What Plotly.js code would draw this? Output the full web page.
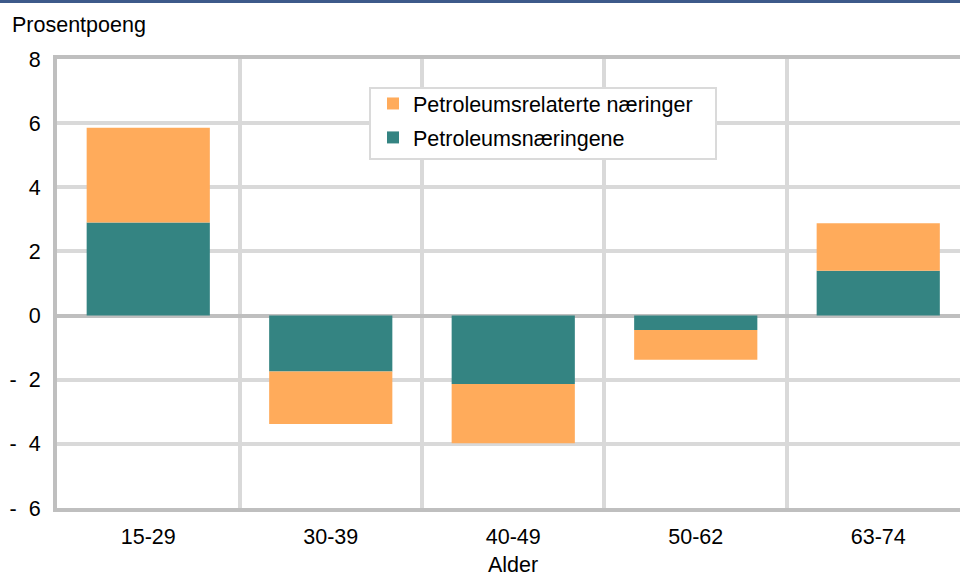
<!DOCTYPE html>
<html>
<head>
<meta charset="utf-8">
<script src="https://cdn.plot.ly/plotly-3.0.1.min.js"></script>
<style>
html,body{margin:0;padding:0;background:#fff;}
#wrap{position:relative;width:960px;height:574px;}
#topbar{position:absolute;left:0;top:0;width:960px;height:3px;background:#3D5A8A;z-index:5;}
#chart{width:960px;height:574px;}
</style>
</head>
<body>
<div id="wrap"><div id="topbar"></div><div id="chart"></div></div>
<script>
const categories = ["15-29", "30-39", "40-49", "50-62", "63-74"];
const petroleumsnaeringene = [2.90, -1.74, -2.13, -0.45, 1.40];
const petroleumsrelaterte = [2.96, -1.64, -1.85, -0.93, 1.48];
const yTickVals = [8, 6, 4, 2, 0, -2, -4, -6];
const yTickText = ["8", "6", "4", "2", "0", "-\u00a0\u00a02", "-\u00a0\u00a04", "-\u00a0\u00a06"];

const FONT = "Liberation Sans, Arial, sans-serif";
const FS = 21.5;
const PW = 903, PH = 449, ML = 57, MT = 59;
const px2x = p => (p - ML) / PW;
const py2y = p => 1 - (p - MT) / PH;

const traces = [
  {type: "bar", name: "Petroleumsnæringene", x: categories, y: petroleumsnaeringene,
   marker: {color: "#348482"}, width: 0.675, legendgroup: "a", legendrank: 2},
  {type: "bar", name: "Petroleumsrelaterte næringer", x: categories, y: petroleumsrelaterte,
   marker: {color: "#FFAB5B"}, width: 0.675, legendgroup: "b", legendrank: 1}
];

const layout = {
  width: 960, height: 574,
  margin: {l: ML, r: 0, t: MT, b: 66},
  paper_bgcolor: "#fff", plot_bgcolor: "#fff",
  barmode: "relative",
  font: {family: FONT, size: FS, color: "#000"},
  showlegend: true,
  legend: {
    x: px2x(373), y: py2y(83), xanchor: "left", yanchor: "top",
    traceorder: "grouped", tracegroupgap: 3,
    bgcolor: "rgba(0,0,0,0)", borderwidth: 0,
    font: {family: FONT, size: FS, color: "#000"}
  },
  shapes: [
    {type: "rect", xref: "paper", yref: "paper", layer: "above",
     x0: px2x(370), x1: px2x(716), y0: py2y(159), y1: py2y(88),
     fillcolor: "#fff", line: {color: "#DADADA", width: 2}}
  ],
  xaxis: {
    type: "category",
    range: [-0.5, 4.448],
    tickson: "boundaries",
    ticks: "",
    showgrid: true, gridcolor: "#D9D9D9", gridwidth: 4,
    showline: true, linecolor: "#BFBFBF", linewidth: 4, mirror: true,
    ticklabelstandoff: 6,
    tickfont: {family: FONT, size: FS, color: "#000"},
    fixedrange: true
  },
  yaxis: {
    range: [-6, 8],
    tickvals: yTickVals, ticktext: yTickText,
    ticks: "",
    showgrid: true, gridcolor: "#D9D9D9", gridwidth: 4,
    zeroline: true, zerolinecolor: "#BFBFBF", zerolinewidth: 4,
    showline: true, linecolor: "#BFBFBF", linewidth: 4,
    ticklabelstandoff: 8,
    tickfont: {family: FONT, size: FS, color: "#000"},
    fixedrange: true
  },
  annotations: [
    {text: "Prosentpoeng", xref: "paper", yref: "paper", x: px2x(10), y: py2y(25),
     xanchor: "left", yanchor: "middle", showarrow: false,
     font: {family: FONT, size: FS, color: "#000"}},
    {text: "Alder", xref: "paper", yref: "paper", x: px2x(513), y: py2y(565),
     xanchor: "center", yanchor: "middle", showarrow: false,
     font: {family: FONT, size: FS, color: "#000"}}
  ]
};

Plotly.newPlot("chart", traces, layout, {displayModeBar: false, staticPlot: true});
</script>
</body>
</html>
